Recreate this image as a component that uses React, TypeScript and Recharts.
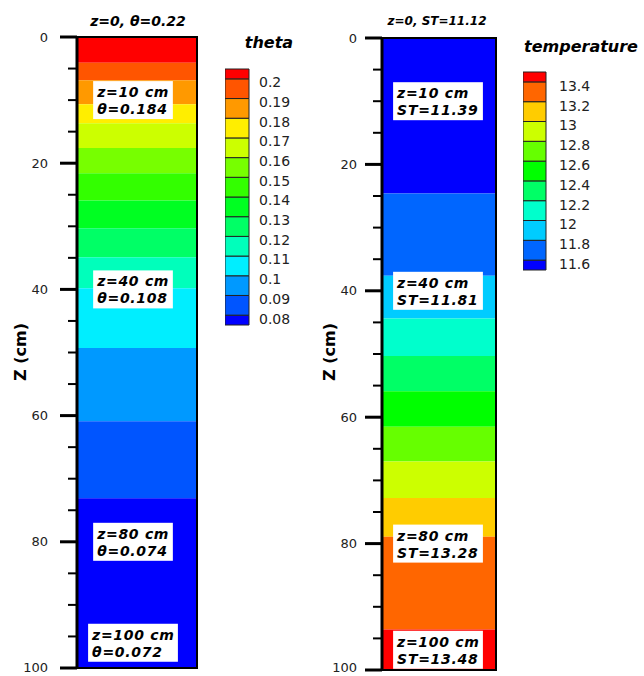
import React from 'react';
import { BarChart, Bar, XAxis, YAxis, ReferenceArea, ReferenceDot } from 'recharts';

// depth axis, cm (labels every 20, minor ticks every 5)
const depthTicks = [0, 5, 10, 15, 20, 25, 30, 35, 40, 45, 50, 55, 60, 65, 70, 75, 80, 85, 90, 95, 100];

// soil moisture column: band limits (cm) top to bottom, and palette (high -> low)
const thetaBreaks = [0, 4.1, 6.85, 10.65, 13.67, 17.6, 21.6, 25.9, 30.3, 34.9, 39.8, 49.3, 60.9, 73.1, 100];
const thetaPalette = ['#ff0000', '#ff5500', '#ff9900', '#ffee00', '#ccff00', '#77ff00', '#33ff00', '#00ff22', '#00ff66', '#00ffbb', '#00eeff', '#0099ff', '#0055ff', '#0000ff'];
const thetaLevels = ['0.2', '0.19', '0.18', '0.17', '0.16', '0.15', '0.14', '0.13', '0.12', '0.11', '0.1', '0.09', '0.08'];
const thetaNoteValues = ['0.184', '0.108', '0.074', '0.072'];

// soil temperature column: band limits (cm) top to bottom, palette (high -> low)
const tempBreaks = [0, 24.6, 37.6, 44.4, 50.3, 55.9, 61.5, 67.0, 72.8, 78.9, 93.6, 100];
const tempPalette = ['#ff0000', '#ff6600', '#ffcc00', '#ccff00', '#66ff00', '#00ff00', '#00ff66', '#00ffcc', '#00ccff', '#0066ff', '#0000ff'];
const tempLevels = ['13.4', '13.2', '13', '12.8', '12.6', '12.4', '12.2', '12', '11.8', '11.6'];
const tempNoteValues = ['11.39', '11.81', '13.28', '13.48'];

const noteDepths = [10, 40, 80, 100];

const FONT = '"DejaVu Sans", sans-serif';

function columnRow(breaks: number[]) {
  const row: any = { name: 'col' };
  for (let i = 0; i < breaks.length - 1; i++) row['b' + i] = breaks[i + 1] - breaks[i];
  return row;
}

// colour bar segments, bottom to top: half step, full steps, half step
function barRow(levels: string[]) {
  const row: any = { name: 'bar' };
  const n = levels.length + 1;
  for (let i = 0; i < n; i++) row['s' + i] = i === 0 || i === n - 1 ? 0.5 : 1;
  return row;
}

function NoteBox({ cx, cy, lines, shift }: any) {
  const w = Math.max(...lines.map((l: string) => l.length)) * 10.1 + 9;
  const h = 38;
  const x = cx - w / 2 + shift;
  const y = cy - h / 2;
  return (
    <g>
      <rect x={x} y={y} width={w} height={h} fill="#fff" />
      {lines.map((l: string, i: number) => (
        <text
          key={i}
          x={x + 4}
          y={y + 16 + i * 17}
          fontFamily={FONT}
          fontWeight="bold"
          fontStyle="italic"
          fontSize={14}
          letterSpacing={0.7}
          fill="#000"
        >
          {l}
        </text>
      ))}
    </g>
  );
}

function DepthTick({ x, y, payload, gap }: any) {
  const major = payload.value % 20 === 0;
  return (
    <g>
      <line x1={x - (major ? 17 : 9)} x2={x} y1={y} y2={y} stroke="#000" strokeWidth={major ? 3 : 2} />
      {major && (
        <text x={x - gap} y={Math.min(y, 667)} dy="0.35em" textAnchor="end" fontFamily={FONT} fontSize={13} fill="#222">
          {payload.value}
        </text>
      )}
    </g>
  );
}

function DepthColumn({ breaks, colors, notes, margin, yWidth, gap, shift, maxAnchor }: any) {
  const row = columnRow(breaks);
  return (
    <BarChart width={210} height={676} data={[row]} margin={margin} barCategoryGap={0}>
      <XAxis dataKey="name" hide />
      <YAxis
        type="number"
        domain={[0, 100]}
        reversed
        ticks={depthTicks}
        interval={0}
        width={yWidth}
        tickSize={0}
        tickMargin={0}
        axisLine={{ stroke: '#000', strokeWidth: 3 }}
        tickLine={false}
        tick={(p: any) => <DepthTick {...p} gap={gap} />}
      />
      {colors.map((c: string, i: number) => (
        <Bar key={i} dataKey={'b' + i} stackId="col" fill={c} isAnimationActive={false} />
      ))}
      <ReferenceArea y1={0} y2={100} fill="none" stroke="#000" strokeWidth={2} ifOverflow="visible" zIndex={1500} />
      {notes.map((n: any, i: number) => (
        <ReferenceDot
          key={i}
          x="col"
          y={Math.min(n.depth, maxAnchor)}
          r={0}
          zIndex={1600}
          shape={(p: any) => <NoteBox cx={p.cx} cy={p.cy} lines={n.lines} shift={shift} />}
        />
      ))}
    </BarChart>
  );
}

function ColorBar({ levels, palette, width, height, yWidth, gap, dy }: any) {
  const row = barRow(levels);
  const upColors = [...palette].reverse();
  const upLevels = [...levels].reverse();
  const ticks = upLevels.map((_: string, i: number) => i + 0.5);
  return (
    <BarChart width={width} height={height} data={[row]} margin={{ top: 10, bottom: 10, left: 0, right: 0 }} barCategoryGap={0}>
      <XAxis dataKey="name" hide />
      <YAxis
        type="number"
        orientation="right"
        domain={[0, levels.length]}
        ticks={ticks}
        interval={0}
        width={yWidth}
        tickSize={0}
        tickMargin={0}
        axisLine={false}
        tickLine={false}
        tick={(p: any) => (
          <text x={p.x + gap} y={p.y + dy} dy="0.35em" textAnchor="start" fontFamily={FONT} fontSize={14} fill="#222">
            {upLevels[p.index]}
          </text>
        )}
      />
      {upColors.map((c: string, i: number) => (
        <Bar key={i} dataKey={'s' + i} stackId="bar" fill={c} stroke="#222" strokeWidth={1} isAnimationActive={false} />
      ))}
    </BarChart>
  );
}

const textStyle = (size: number, bold: boolean, italic: boolean): React.CSSProperties => ({
  position: 'absolute',
  fontFamily: FONT,
  fontSize: size,
  fontWeight: bold ? 'bold' : 'normal',
  fontStyle: italic ? 'italic' : 'normal',
  color: '#000',
  whiteSpace: 'nowrap',
  transform: 'translate(-50%, -50%)',
  lineHeight: 1,
});

export default function App() {
  const thetaNotes = noteDepths.map((d, i) => ({ depth: d, lines: [`z=${d} cm`, `θ=${thetaNoteValues[i]}`] }));
  const tempNotes = noteDepths.map((d, i) => ({ depth: d, lines: [`z=${d} cm`, `ST=${tempNoteValues[i]}`] }));
  return (
    <div style={{ position: 'absolute', left: 0, top: 0, width: 644, height: 676, background: '#fff', overflow: 'hidden' }}>
      <div style={{ position: 'absolute', left: 0, top: 0 }}>
        <DepthColumn
          breaks={thetaBreaks}
          colors={thetaPalette}
          notes={thetaNotes}
          margin={{ top: 37, bottom: 8, left: 0, right: 13 }}
          yWidth={77}
          gap={29}
          shift={-4}
          maxAnchor={96}
        />
      </div>
      <div style={{ position: 'absolute', left: 300, top: 0 }}>
        <DepthColumn
          breaks={tempBreaks}
          colors={[...tempPalette].reverse()}
          notes={tempNotes}
          margin={{ top: 38, bottom: 6, left: 0, right: 14 }}
          yWidth={82}
          gap={25}
          shift={-1}
          maxAnchor={96.8}
        />
      </div>
      <div style={{ position: 'absolute', left: 225, top: 59 }}>
        <ColorBar levels={thetaLevels} palette={thetaPalette} width={80} height={276} yWidth={56} gap={10} dy={3.5} />
      </div>
      <div style={{ position: 'absolute', left: 523, top: 62 }}>
        <ColorBar levels={tempLevels} palette={tempPalette} width={100} height={218} yWidth={77} gap={13} dy={4} />
      </div>

      <div style={{ ...textStyle(14, true, true), left: 138, top: 21 }}>z=0, θ=0.22</div>
      <div style={{ ...textStyle(12, true, true), left: 437, top: 21 }}>z=0, ST=11.12</div>
      <div style={{ ...textStyle(16, true, true), left: 269, top: 43 }}>theta</div>
      <div style={{ ...textStyle(16, true, true), left: 581, top: 47 }}>temperature</div>
      <div style={{ ...textStyle(16, true, false), left: 21, top: 352, transform: 'translate(-50%, -50%) rotate(-90deg)' }}>Z (cm)</div>
      <div style={{ ...textStyle(16, true, false), left: 330, top: 352, transform: 'translate(-50%, -50%) rotate(-90deg)' }}>Z (cm)</div>
    </div>
  );
}
